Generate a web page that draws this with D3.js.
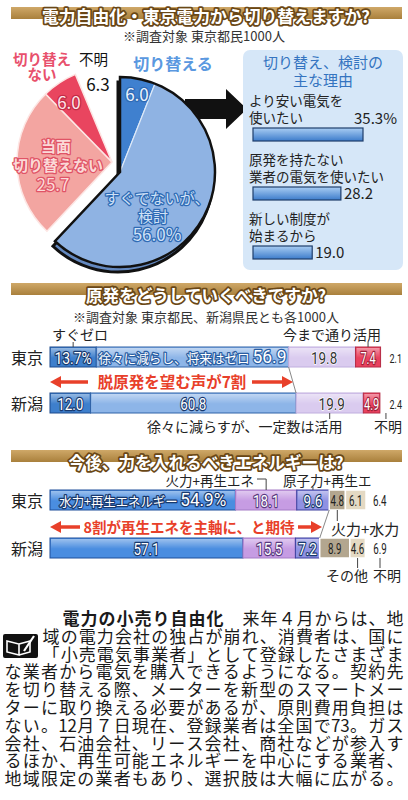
<!DOCTYPE html>
<html lang="ja">
<head>
<meta charset="UTF-8">
<title>電力自由化 調査</title>
<style>
  * { margin: 0; padding: 0; box-sizing: border-box; }
  body { background: #fff; width: 408px; height: 800px; overflow: hidden; }
  svg { display: block; font-family: "Noto Sans CJK JP", "Noto Sans", sans-serif; }
  .num { font-family: "Liberation Sans Narrow", "Roboto", "Liberation Sans", sans-serif; }
</style>
</head>
<body>
<div id="chart"></div>
<script src="https://d3js.org/d3.v7.min.js"></script>
<script>
// ---- data ----
const pieCats = ["切り替える", "すぐでないが、検討", "当面切り替えない", "切り替えない", "不明"];
const pieVals = [6.0, 56.0, 25.7, 6.0, 6.3];

const reasonLabels = [["より安い電気を", "使いたい"], ["原発を持たない", "業者の電気を使いたい"], ["新しい制度が", "始まるから"]];
const reasonVals = [35.3, 28.2, 19.0];

const regions = ["東京", "新潟"];
const nukeCats = ["すぐゼロ", "徐々に減らし、将来はゼロ", "徐々に減らすが、一定数は活用", "今まで通り活用", "不明"];
const nukeTokyo = [13.7, 56.9, 19.8, 7.4, 2.1];
const nukeNiigata = [12.0, 60.8, 19.9, 4.9, 2.4];

const energyCats = ["水力+再生エネルギー", "火力+再生エネ", "原子力+再生エ", "火力+水力", "その他", "不明"];
const energyTokyo = [54.9, 18.1, 9.6, 4.8, 6.1, 6.4];
const energyNiigata = [57.1, 15.5, 7.2, 8.9, 4.6, 6.9];

const bodyLines = [
  "来年４月からは、地",
  "域の電力会社の独占が崩れ、消費者は、国に",
  "「小売電気事業者」として登録したさまざま",
  "な業者から電気を購入できるようになる。契約先",
  "を切り替える際、メーターを新型のスマートメー",
  "ターに取り換える必要があるが、原則費用負担は",
  "ない。12月７日現在、登録業者は全国で73。ガス",
  "会社、石油会社、リース会社、商社などが参入す",
  "るほか、再生可能エネルギーを中心にする業者、",
  "地域限定の業者もあり、選択肢は大幅に広がる。"
];

// ---- setup ----
const svg = d3.select("#chart").append("svg").attr("width", 408).attr("height", 800);
const defs = svg.append("defs");

const gold = defs.append("linearGradient").attr("id", "gold").attr("x1", 0).attr("y1", 0).attr("x2", 0).attr("y2", 1);
gold.append("stop").attr("offset", "0%").attr("stop-color", "#cfa868");
gold.append("stop").attr("offset", "100%").attr("stop-color", "#a9803c");

const shine = defs.append("linearGradient").attr("id", "shine").attr("x1", 0).attr("y1", 0).attr("x2", 0).attr("y2", 1);
shine.append("stop").attr("offset", "0%").attr("stop-color", "#fff").attr("stop-opacity", 0.45);
shine.append("stop").attr("offset", "55%").attr("stop-color", "#fff").attr("stop-opacity", 0);

const rbar = defs.append("linearGradient").attr("id", "rbar").attr("x1", 0).attr("y1", 0).attr("x2", 0).attr("y2", 1);
rbar.append("stop").attr("offset", "0%").attr("stop-color", "#a9cdf3");
rbar.append("stop").attr("offset", "100%").attr("stop-color", "#3d7ccb");

// outlined text helper
function label(g, x, y, str, o) {
  const t = g.append("text").attr("x", x).attr("y", y)
    .attr("text-anchor", o.anchor || "middle")
    .attr("font-size", o.size || 14)
    .attr("font-weight", o.weight || 400)
    .attr("fill", o.fill || "#222")
    .attr("stroke", o.stroke || "none")
    .attr("stroke-width", o.sw || 3)
    .attr("stroke-linejoin", "round")
    .attr("paint-order", "stroke")
    .text(str);
  if (o.cls) t.attr("class", o.cls);
  if (o.len) t.attr("textLength", o.len).attr("lengthAdjust", "spacingAndGlyphs");
  return t;
}

// width of a condensed number label
function numLen(str, size, dw) {
  let w = 0;
  for (const c of str) w += c === "." ? 0.22 : c === "%" ? 0.66 : dw;
  return w * size;
}

function banner(y, textY, str, len) {
  svg.append("rect").attr("x", 11).attr("y", y).attr("width", 391).attr("height", 12).attr("fill", "url(#gold)");
  label(svg, 206, textY, str, { size: 17, weight: 700, fill: "#fff", stroke: "#6a4716", sw: 3.5, len: len });
}

function tick(x, y1, y2) {
  svg.append("line").attr("x1", x).attr("x2", x).attr("y1", y1).attr("y2", y2)
    .attr("stroke", "#444").attr("stroke-width", 1);
}

function redArrow(y, x0, x1, t0, t1) {
  const g = svg.append("g").attr("fill", "#e8402a").attr("stroke", "#e8402a");
  g.append("line").attr("x1", x0 + 8).attr("x2", t0).attr("y1", y).attr("y2", y).attr("stroke-width", 3.5);
  g.append("line").attr("x1", t1).attr("x2", x1 - 8).attr("y1", y).attr("y2", y).attr("stroke-width", 3.5);
  g.append("path").attr("stroke", "none").attr("d", `M${x0},${y}L${x0 + 11},${y - 6}L${x0 + 11},${y + 6}Z`);
  g.append("path").attr("stroke", "none").attr("d", `M${x1},${y}L${x1 - 11},${y - 6}L${x1 - 11},${y + 6}Z`);
}

function stackRow(vals) {
  let c = 0;
  return vals.map(v => { const s = c; c += v; return { s: s, e: c, v: v }; });
}

// ---- section 1: pie ----
banner(7, 23, "電力自由化・東京電力から切り替えますか?", 328);
label(svg, 204, 41, "※調査対象 東京都民1000人", { size: 13, fill: "#333" });

// big arrow toward reasons box (behind pie)
svg.append("path")
  .attr("d", "M185,99L226,99L226,89L247,109L226,129L226,119L185,119Z")
  .attr("fill", "#111");

const pieData = d3.pie().sort(null).value(d => d)(pieVals);
const r = 95;
const arc = d3.arc().innerRadius(0).outerRadius(r);
const pieColors = ["#3f80cf", "#8fb3e3", "#f3a5a1", "#e9455f", "none"];

// exploded blue part with 3D edge
const blueAll = { startAngle: pieData[0].startAngle, endAngle: pieData[1].endAngle };
const gBlueSide = svg.append("g").attr("transform", "translate(118,177)");
gBlueSide.append("path").attr("d", arc(blueAll)).attr("fill", "#6489c0").attr("stroke", "#111").attr("stroke-width", 3);
const gBlue = svg.append("g").attr("transform", "translate(120,172)");
gBlue.selectAll("path.s").data(pieData.slice(0, 2)).enter().append("path")
  .attr("d", arc).attr("fill", (d, i) => pieColors[i]).attr("stroke", "#dde9f8").attr("stroke-width", 1.2);
gBlue.append("path").attr("d", arc(blueAll)).attr("fill", "none").attr("stroke", "#111").attr("stroke-width", 2.5);

const gPink = svg.append("g").attr("transform", "translate(112,162)");
gPink.selectAll("path").data(pieData.slice(2, 4)).enter().append("path")
  .attr("d", arc).attr("fill", (d, i) => pieColors[i + 2]).attr("stroke", "#fde6e4").attr("stroke-width", 1.5);

// pie labels
label(svg, 173, 70, pieCats[0], { size: 16, weight: 700, fill: "#5a98e0", stroke: "#fff", sw: 3.5 });
label(svg, 137, 101, pieVals[0].toFixed(1), { size: 17, fill: "#eaf2fc", stroke: "#2f6bb5", sw: 2.5 });
label(svg, 42, 65, "切り替え", { size: 14.5, weight: 700, fill: "#e8506c", stroke: "#fff", sw: 3 });
label(svg, 42, 80, "ない", { size: 14.5, weight: 700, fill: "#e8506c", stroke: "#fff", sw: 3 });
label(svg, 79, 65, pieCats[4], { size: 14.5, anchor: "start", fill: "#111" });
label(svg, 98, 91, pieVals[4].toFixed(1), { size: 17, fill: "#111" });
label(svg, 69, 109, pieVals[3].toFixed(1), { size: 17, fill: "#fde3e8", stroke: "#c42a45", sw: 2.5 });
label(svg, 56, 152, "当面", { size: 15, weight: 700, fill: "#fbd9d7", stroke: "#e05366", sw: 2.5 });
label(svg, 58, 171, "切り替えない", { size: 15, weight: 700, fill: "#fbd9d7", stroke: "#e05366", sw: 2.5 });
label(svg, 53, 191, pieVals[2].toFixed(1), { size: 17, fill: "#fbd9d7", stroke: "#e05366", sw: 2.5 });
label(svg, 157, 204, "すぐでないが、", { size: 15, fill: "#cfe1f7", stroke: "#2f6bb5", sw: 2.5 });
label(svg, 153, 222, "検討", { size: 15, fill: "#cfe1f7", stroke: "#2f6bb5", sw: 2.5 });
label(svg, 157, 241, pieVals[1].toFixed(1) + "%", { size: 17, fill: "#cfe1f7", stroke: "#2f6bb5", sw: 2.5 });

// reasons box
svg.append("rect").attr("x", 243).attr("y", 50).attr("width", 160).attr("height", 220).attr("rx", 7).attr("fill", "#d6e7f8");
label(svg, 323, 68, "切り替え、検討の", { size: 15, fill: "#3474c0" });
label(svg, 323, 86, "主な理由", { size: 15, fill: "#3474c0" });

const rx = d3.scaleLinear().domain([0, 35.3]).range([253, 363]);
const ry = d3.scalePoint().domain(reasonVals.map((d, i) => i)).range([128, 246]);
const gR = svg.append("g");
gR.selectAll("rect").data(reasonVals).enter().append("rect")
  .attr("x", rx(0)).attr("y", (d, i) => ry(i))
  .attr("width", d => rx(d) - rx(0)).attr("height", 13)
  .attr("fill", "url(#rbar)").attr("stroke", "#1f3e6c").attr("stroke-width", 1.2);
reasonLabels.forEach((ls, i) => {
  label(gR, 249, ry(i) - 22, ls[0], { size: 13.5, anchor: "start", fill: "#222" });
  label(gR, 249, ry(i) - 5, ls[1], { size: 13.5, anchor: "start", fill: "#222" });
});
label(gR, 397, ry(0) - 4, reasonVals[0].toFixed(1) + "%", { size: 15, anchor: "end", fill: "#222" });
reasonVals.slice(1).forEach((v, j) => {
  label(gR, rx(v) + 3, ry(j + 1) + 12, v.toFixed(1), { size: 15, anchor: "start", fill: "#222" });
});

// ---- section 2: nuclear ----
banner(283, 302, "原発をどうしていくべきですか?", 240);
label(svg, 206, 322, "※調査対象 東京都民、新潟県民とも各1000人", { size: 13, fill: "#333" });

const xs = d3.scaleLinear().domain([0, 100]).range([50, 388]);
const mid = d => (xs(d.s) + xs(d.e)) / 2;
const yN = d3.scalePoint().domain(regions).range([347, 393]);
const nukeColors = ["#3e7fcc", "#8db5e8", "#dacbef", "#e9415e", "none"];
const nukeStroke = ["#1d4a8c", "#2f62a8", "#c0aede", "#b52a44", "none"];
const nukeRows = [nukeTokyo, nukeNiigata];

nukeRows.forEach((vals, ri) => {
  const y = yN(regions[ri]);
  const segs = stackRow(vals);
  const g = svg.append("g");
  g.selectAll("rect.seg").data(segs).enter().append("rect")
    .attr("x", d => xs(d.s)).attr("y", y)
    .attr("width", d => xs(d.e) - xs(d.s)).attr("height", 20)
    .attr("fill", (d, i) => nukeColors[i]).attr("stroke", (d, i) => nukeStroke[i]).attr("stroke-width", 1);
  g.selectAll("rect.sh").data(segs.slice(0, 4)).enter().append("rect")
    .attr("x", d => xs(d.s) + 1).attr("y", y + 1)
    .attr("width", d => xs(d.e) - xs(d.s) - 2).attr("height", 18)
    .attr("fill", "url(#shine)");
  label(g, 27, y + 17, regions[ri], { size: 16, fill: "#222" });
  segs.forEach((d, i) => {
    const cx = mid(d);
    let txt = d.v.toFixed(1);
    if (ri === 0 && i === 0) txt += "%";
    if (i === 1 && ri === 0) {
      const t = label(g, cx, y + 16, nukeCats[1] + " ", { size: 13, fill: "#fff", stroke: "#2a5ea3", sw: 2.5, len: 188 });
      t.append("tspan").attr("class", "num").attr("font-size", 18).text(txt);
    } else if (i === 4) {
      label(g, 402, y + 16, txt, { size: 13, anchor: "end", cls: "num", fill: "#222", len: 12.5 });
    } else if (i === 2) {
      label(g, cx + 2, y + 16.5, txt, { size: 17, cls: "num", fill: "#333", stroke: "#fff", sw: 1.5, len: numLen(txt, 17, 0.44) });
    } else {
      label(g, cx, y + 16.5, txt, { size: 17, cls: "num", fill: "#fff", stroke: i === 3 ? "#9d1f37" : "#18396e", sw: 2.5,
        len: numLen(txt, 17, i === 3 ? 0.34 : 0.44) });
    }
  });
});

// nuclear callouts
const nT = stackRow(nukeTokyo), nN = stackRow(nukeNiigata);
label(svg, 52, 340, nukeCats[0], { size: 14, anchor: "start", fill: "#222" });
tick(mid(nT[0]), 342, 347);
label(svg, 381, 340, nukeCats[3], { size: 14, anchor: "end", fill: "#222" });
tick(mid(nT[3]), 342, 347);
label(svg, 147, 432, nukeCats[2], { size: 14, anchor: "start", fill: "#222" });
tick(mid(nN[2]), 413, 419);
label(svg, 374, 432, nukeCats[4], { size: 14, anchor: "start", fill: "#222" });
tick(mid(nN[4]) + 2, 413, 419);

svg.append("line").attr("x1", xs(nT[1].e)).attr("y1", 367).attr("x2", xs(nN[1].e)).attr("y2", 393)
  .attr("stroke", "#888").attr("stroke-width", 1);
redArrow(382, 50, 293, 88, 252);
label(svg, 172, 388, "脱原発を望む声が7割", { size: 15.5, weight: 700, fill: "#e8402a", stroke: "#fff", sw: 2 });

// ---- section 3: energy ----
banner(450, 469, "今後、力を入れるべきエネルギーは?", 275);

const yE = d3.scalePoint().domain(regions).range([490, 538]);
const eColors = ["#4a8de0", "#c69ce3", "#8f91e3", "#b3a68f", "#e4d9c3", "none"];
const eStroke = ["#1f4f9a", "#a57cc6", "#3c3f9e", "#fff", "#fff", "none"];
const eRows = [energyTokyo, energyNiigata];

eRows.forEach((vals, ri) => {
  const y = yE(regions[ri]);
  const segs = stackRow(vals);
  const g = svg.append("g");
  g.selectAll("rect.seg").data(segs).enter().append("rect")
    .attr("x", d => xs(d.s)).attr("y", y)
    .attr("width", d => xs(d.e) - xs(d.s)).attr("height", 20)
    .attr("fill", (d, i) => eColors[i]).attr("stroke", (d, i) => eStroke[i]).attr("stroke-width", (d, i) => i >= 3 ? 1.5 : 1);
  g.selectAll("rect.sh").data(segs.slice(0, 3)).enter().append("rect")
    .attr("x", d => xs(d.s) + 1).attr("y", y + 1)
    .attr("width", d => xs(d.e) - xs(d.s) - 2).attr("height", 18)
    .attr("fill", "url(#shine)");
  label(g, 27, y + 17, regions[ri], { size: 16, fill: "#222" });
  segs.forEach((d, i) => {
    const cx = mid(d);
    const txt = d.v.toFixed(1);
    if (i === 0 && ri === 0) {
      const t = label(g, cx, y + 16, energyCats[0] + " ", { size: 13, fill: "#fff", stroke: "#18396e", sw: 2.5, len: 167 });
      t.append("tspan").attr("class", "num").attr("font-size", 18).text(txt + "%");
    } else if (i >= 3) {
      label(g, cx + (i === 5 ? 3 : 0), y + 16, txt, { size: 15, cls: "num", fill: "#222", len: numLen(txt, 15, 0.34) });
    } else {
      label(g, cx, y + 16.5, txt, { size: 17, cls: "num", fill: "#fff", stroke: i === 1 ? "#5a3a80" : "#18396e", sw: 2.5,
        len: numLen(txt, 17, 0.44) });
    }
  });
});

const eT = stackRow(energyTokyo), eN = stackRow(energyNiigata);
label(svg, 254, 486, energyCats[1], { size: 13.5, anchor: "end", fill: "#222" });
svg.append("path").attr("d", `M257,479H${mid(eT[1])}V490`).attr("fill", "none").attr("stroke", "#444");
label(svg, 283, 486, energyCats[2], { size: 13.5, anchor: "start", fill: "#222" });
tick(mid(eT[2]), 487, 490);
label(svg, 331, 535, energyCats[3], { size: 15, anchor: "start", fill: "#222" });
tick(mid(eT[3]), 510, 521);
label(svg, 326, 581, energyCats[4], { size: 14, anchor: "start", fill: "#222" });
tick(mid(eN[4]), 558, 568);
label(svg, 373, 581, energyCats[5], { size: 14, anchor: "start", fill: "#222" });
tick(mid(eN[5]) + 3, 558, 568);

svg.append("line").attr("x1", xs(eT[2].e)).attr("y1", 510).attr("x2", xs(eN[2].e)).attr("y2", 538)
  .attr("stroke", "#888").attr("stroke-width", 1);
redArrow(527, 50, 322, 80, 298);
label(svg, 189, 533, "8割が再生エネを主軸に、と期待", { size: 14.5, weight: 700, fill: "#e8402a", stroke: "#fff", sw: 2 });

// ---- body text ----
const icon = svg.append("g");
icon.append("rect").attr("x", 3).attr("y", 634).attr("width", 35).attr("height", 24).attr("rx", 2).attr("fill", "#111");
icon.append("path").attr("d", "M7,641L19,644L19,655L7,652Z M19,644L30,641L30,652L19,655")
  .attr("fill", "none").attr("stroke", "#fff").attr("stroke-width", 1.6);
icon.append("line").attr("x1", 24).attr("y1", 651).attr("x2", 34).attr("y2", 636)
  .attr("stroke", "#fff").attr("stroke-width", 2.2);

// each line is set on an even grid of cells (two-digit numbers share a cell)
const bodyX = [62, 42, 42, 4, 4, 4, 4, 4, 4, 4];
const body = svg.append("g").attr("font-size", 17).attr("fill", "#1a1a1a").attr("text-anchor", "middle");
bodyLines.forEach((ln, i) => {
  let toks = ln.match(/\d{2}|./g);
  let boldN = 0;
  if (i === 0) {
    const head = "電力の小売り自由化　".split("");
    boldN = head.length;
    toks = head.concat(toks);
  }
  const cell = (404 - bodyX[i]) / toks.length;
  body.selectAll(null).data(toks).enter().append("text")
    .attr("x", (d, k) => bodyX[i] + cell * (k + 0.5))
    .attr("y", 625 + i * 17.8)
    .attr("font-weight", (d, k) => k < boldN ? 700 : 400)
    .text(d => d);
});
</script>
</body>
</html>
